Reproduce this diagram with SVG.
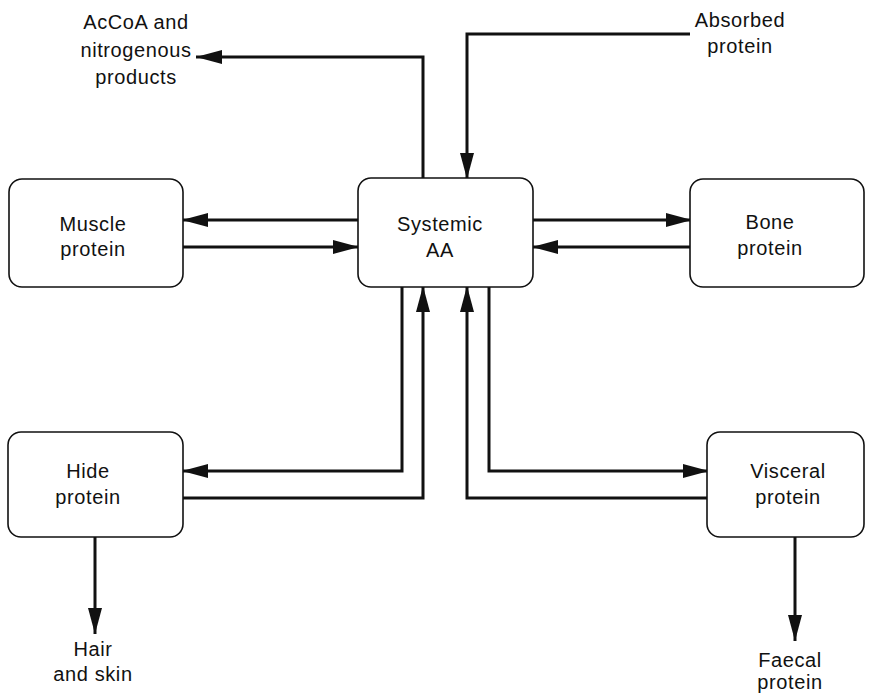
<svg xmlns="http://www.w3.org/2000/svg" width="874" height="693" viewBox="0 0 874 693">
<style>
.box{fill:#fff;stroke:#111;stroke-width:1.6}
.t{font-family:"Liberation Sans",Arial,sans-serif;font-size:20px;letter-spacing:0.6px;fill:#111;text-anchor:middle}
.c{fill:none;stroke:#111;stroke-width:3;stroke-linejoin:miter}
</style>
<defs>
<marker id="ah" markerUnits="userSpaceOnUse" markerWidth="27" markerHeight="14" refX="26" refY="7" orient="auto">
<path d="M0,0 L26,7 L0,14 Z" fill="#111"/>
</marker>
</defs>
<rect width="874" height="693" fill="#fff"/>
<g id="connectors">
<path class="c" d="M358,220 H182" marker-end="url(#ah)"/>
<path class="c" d="M183,247 H359" marker-end="url(#ah)"/>
<path class="c" d="M533,220 H692" marker-end="url(#ah)"/>
<path class="c" d="M690,247 H532" marker-end="url(#ah)"/>
<path class="c" d="M402,287 V471 H182" marker-end="url(#ah)"/>
<path class="c" d="M183,498 H423 V286" marker-end="url(#ah)"/>
<path class="c" d="M707,498 H467 V286" marker-end="url(#ah)"/>
<path class="c" d="M489,287 V471 H709" marker-end="url(#ah)"/>
<path class="c" d="M423,178 V57 H196" marker-end="url(#ah)"/>
<path class="c" d="M690,34 H467 V179" marker-end="url(#ah)"/>
<path class="c" d="M95,537 V634" marker-end="url(#ah)"/>
<path class="c" d="M795,537 V641" marker-end="url(#ah)"/>
</g>
<g id="systemic">
<rect class="box" x="358" y="178" width="175" height="109" rx="13"/>
<text class="t" x="440" y="231">Systemic</text>
<text class="t" x="440" y="257">AA</text>
</g>
<g id="muscle">
<rect class="box" x="9" y="179" width="174" height="108" rx="13"/>
<text class="t" x="93" y="231">Muscle</text>
<text class="t" x="93" y="256">protein</text>
</g>
<g id="bone">
<rect class="box" x="690" y="179" width="174" height="108" rx="13"/>
<text class="t" x="770" y="229">Bone</text>
<text class="t" x="770" y="255">protein</text>
</g>
<g id="hide">
<rect class="box" x="8" y="432" width="175" height="105" rx="13"/>
<text class="t" x="88" y="478">Hide</text>
<text class="t" x="88" y="504">protein</text>
</g>
<g id="visceral">
<rect class="box" x="707" y="432" width="157" height="105" rx="13"/>
<text class="t" x="788" y="478">Visceral</text>
<text class="t" x="788" y="504">protein</text>
</g>
<g id="accoa">
<text class="t" x="136" y="29">AcCoA and</text>
<text class="t" x="136" y="57">nitrogenous</text>
<text class="t" x="136" y="84">products</text>
</g>
<g id="absorbed">
<text class="t" x="740" y="27">Absorbed</text>
<text class="t" x="740" y="53">protein</text>
</g>
<g id="hair">
<text class="t" x="93" y="656">Hair</text>
<text class="t" x="93" y="681">and skin</text>
</g>
<g id="faecal">
<text class="t" x="790" y="667">Faecal</text>
<text class="t" x="790" y="689">protein</text>
</g>
</svg>
